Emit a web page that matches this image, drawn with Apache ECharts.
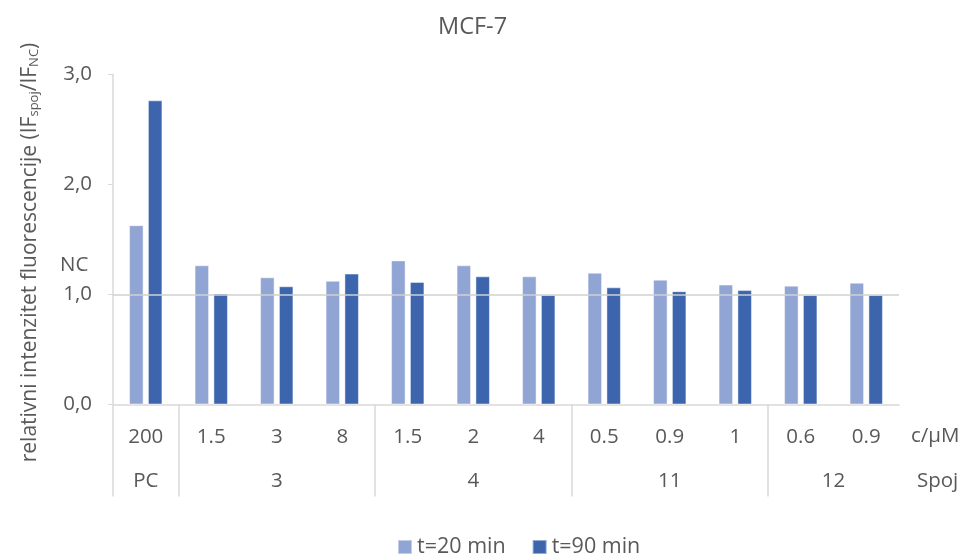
<!DOCTYPE html>
<html><head><meta charset="utf-8">
<script src="https://cdn.jsdelivr.net/npm/echarts@6/dist/echarts.min.js"></script>
<style>html,body{margin:0;padding:0;background:#fff}#c{width:966px;height:554px}</style>
</head><body><div id="c"></div>
<script>
const concentrations = ['200','1.5','3','8','1.5','2','4','0.5','0.9','1','0.6','0.9'];
const groupNames = ['PC','3','4','11','12'];
const groupSizes = [1,3,3,3,2];
const t20 = [1.63,1.265,1.156,1.125,1.31,1.265,1.165,1.198,1.135,1.09,1.08,1.107];
const t90 = [2.765,1.01,1.075,1.19,1.114,1.165,0.995,1.065,1.03,1.04,0.995,0.995];
const yTicks = [0,1,2,3];

const boundaries = [], centers = [];
let acc = 0;
groupSizes.forEach(s => { boundaries.push(acc); centers.push(acc + s/2); acc += s; });

const FONT = '"Open Sans", "Liberation Sans", sans-serif';
const TXT = '#595959';
const FS = 20.5;
const chart = echarts.init(document.getElementById('c'));
chart.setOption({
  animation: false,
  textStyle: {fontFamily: FONT},
  title: {text: 'MCF-7', left: 433, top: 10, textStyle: {fontFamily: FONT, fontSize: 23.5, fontWeight: 'normal', color: TXT}},
  grid: {left: 113, right: 67, top: 74.5, bottom: 149.5, containLabel: false},
  legend: {top: 531, left: 392, itemWidth: 14, itemHeight: 14, itemGap: 26, icon: 'rect',
    textStyle: {fontFamily: FONT, fontSize: 21.5, color: TXT}},
  xAxis: [{
    type: 'category', data: concentrations,
    axisLine: {lineStyle: {color: '#d9d9d9', width: 1.5}},
    axisTick: {show: false},
    axisLabel: {margin: 22, fontSize: FS, color: TXT, fontFamily: FONT, interval: 0}
  }, {
    type: 'value', min: 0, max: acc, position: 'bottom',
    axisLine: {show: false}, splitLine: {show: false},
    axisTick: {show: true, length: 92, lineStyle: {color: '#d9d9d9', width: 1.5}, customValues: boundaries},
    axisLabel: {margin: 66, fontSize: FS, color: TXT, fontFamily: FONT, customValues: centers,
      formatter: v => { const i = centers.findIndex(c => Math.abs(c - v) < 1e-6); return i >= 0 ? groupNames[i] : ''; }}
  }],
  yAxis: {
    type: 'value', min: yTicks[0], max: yTicks[yTicks.length-1], interval: 1,
    axisLine: {show: true, lineStyle: {color: '#d9d9d9', width: 1.5}},
    axisTick: {show: true, length: 5, lineStyle: {color: '#d9d9d9'}},
    splitLine: {show: false},
    axisLabel: {margin: 21, fontSize: FS, color: TXT, fontFamily: FONT, formatter: v => v.toFixed(1).replace('.', ',')},
    name: '{n|relativni intenzitet fluorescencije (IF}{s|spoj}{n|/IF}{s|NC}{n|)}',
    nameLocation: 'middle', nameGap: 72, nameRotate: 90,
    nameTextStyle: {padding: [0, 26, 0, 0], rich: {
      n: {fontSize: 21, color: TXT, fontFamily: FONT, verticalAlign: 'bottom', lineHeight: 28},
      s: {fontSize: 13, color: TXT, fontFamily: FONT, verticalAlign: 'bottom', lineHeight: 20}
    }}
  },
  series: [{
    name: 't=20 min', type: 'bar', data: t20, barWidth: 14.5, barGap: '30%',
    itemStyle: {color: '#91A5D4', borderColor: 'rgba(255,255,255,0.45)', borderWidth: 1},
    markLine: {silent: true, symbol: 'none', label: {show: false},
      lineStyle: {color: '#d0d0d0', type: 'solid', width: 1.5}, data: [{yAxis: 1}]}
  }, {
    name: 't=90 min', type: 'bar', data: t90, barWidth: 14.5,
    itemStyle: {color: '#3C65AE', borderColor: 'rgba(255,255,255,0.45)', borderWidth: 1}
  }]
});
const p1 = chart.convertToPixel({yAxisIndex: 0}, 1);
chart.setOption({graphic: [
  {type: 'text', left: 60, top: p1 - 40, style: {text: 'NC', fontSize: FS, fill: TXT, fontFamily: FONT}},
  {type: 'text', left: 911, top: 426, style: {text: 'c/μM', fontSize: FS, fill: TXT, fontFamily: FONT}},
  {type: 'text', left: 917, top: 471, style: {text: 'Spoj', fontSize: FS, fill: TXT, fontFamily: FONT}}
]});
</script></body></html>
